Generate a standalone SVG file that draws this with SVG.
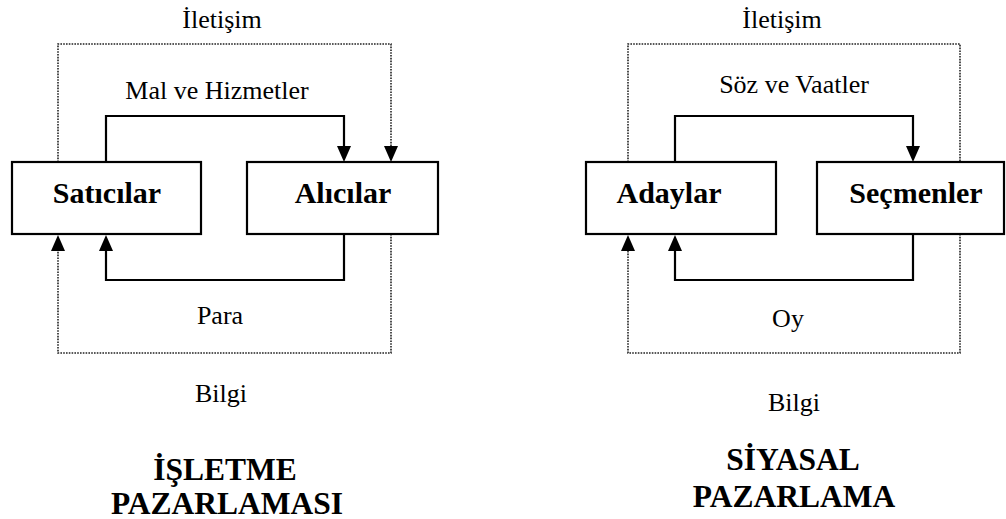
<svg xmlns="http://www.w3.org/2000/svg" width="1006" height="519" viewBox="0 0 1006 519">
<style>
.box{fill:#fff;stroke:#000;stroke-width:2.2}
.solid{fill:none;stroke:#000;stroke-width:2.2}
.dot{fill:none;stroke:#222;stroke-width:1.6;stroke-dasharray:1.6 1.2}
.t{font-family:"Liberation Serif","Times New Roman",serif;font-size:26px;fill:#000;text-anchor:middle}
.b{font-family:"Liberation Serif","Times New Roman",serif;font-size:30px;font-weight:bold;fill:#000;text-anchor:middle}
.h{font-family:"Liberation Serif","Times New Roman",serif;font-size:31.5px;font-weight:bold;fill:#000;text-anchor:middle}
</style>
<defs>
<marker id="arr" markerWidth="16" markerHeight="14" refX="4" refY="7" orient="auto" markerUnits="userSpaceOnUse" viewBox="0 0 16 14">
<path d="M0,0 L16,7 L0,14 Z" fill="#000"/>
</marker>
</defs>
<rect width="1006" height="519" fill="#fff"/>

<g id="connectors">
<!-- left diagram -->
<path class="dot" d="M58,162 V44 H391 V150" marker-end="url(#arr)"/>
<path class="solid" d="M106,162 V116 H344 V150" marker-end="url(#arr)"/>
<path class="solid" d="M344,234 V280 H106 V247" marker-end="url(#arr)"/>
<path class="dot" d="M391,234 V353 H58 V247" marker-end="url(#arr)"/>
<!-- right diagram -->
<path class="dot" d="M628,162 V44 H960 V162"/>
<path class="solid" d="M675,162 V116 H913 V150" marker-end="url(#arr)"/>
<path class="solid" d="M913,234 V280 H675 V247" marker-end="url(#arr)"/>
<path class="dot" d="M960,234 V353 H628 V247" marker-end="url(#arr)"/>
</g>

<g id="satici">
<rect class="box" x="12" y="162" width="189" height="72"/>
<text class="b" x="107" y="203">Satıcılar</text>
</g>
<g id="alici">
<rect class="box" x="247" y="162" width="191" height="72"/>
<text class="b" x="343" y="203">Alıcılar</text>
</g>
<g id="aday">
<rect class="box" x="586" y="162" width="190" height="72"/>
<text class="b" x="669" y="203">Adaylar</text>
</g>
<g id="secmen">
<rect class="box" x="817" y="162" width="187" height="72"/>
<text class="b" x="916" y="203">Seçmenler</text>
</g>

<g id="labels">
<text class="t" x="222" y="28">İletişim</text>
<text class="t" x="217" y="99">Mal ve Hizmetler</text>
<text class="t" x="220" y="324">Para</text>
<text class="t" x="221" y="402">Bilgi</text>
<text class="h" x="225" y="480">İŞLETME</text>
<text class="h" x="227" y="514">PAZARLAMASI</text>

<text class="t" x="782" y="28">İletişim</text>
<text class="t" x="794" y="93">Söz ve Vaatler</text>
<text class="t" x="788" y="327">Oy</text>
<text class="t" x="794" y="411">Bilgi</text>
<text class="h" x="793" y="470">SİYASAL</text>
<text class="h" x="794" y="507">PAZARLAMA</text>
</g>
</svg>
